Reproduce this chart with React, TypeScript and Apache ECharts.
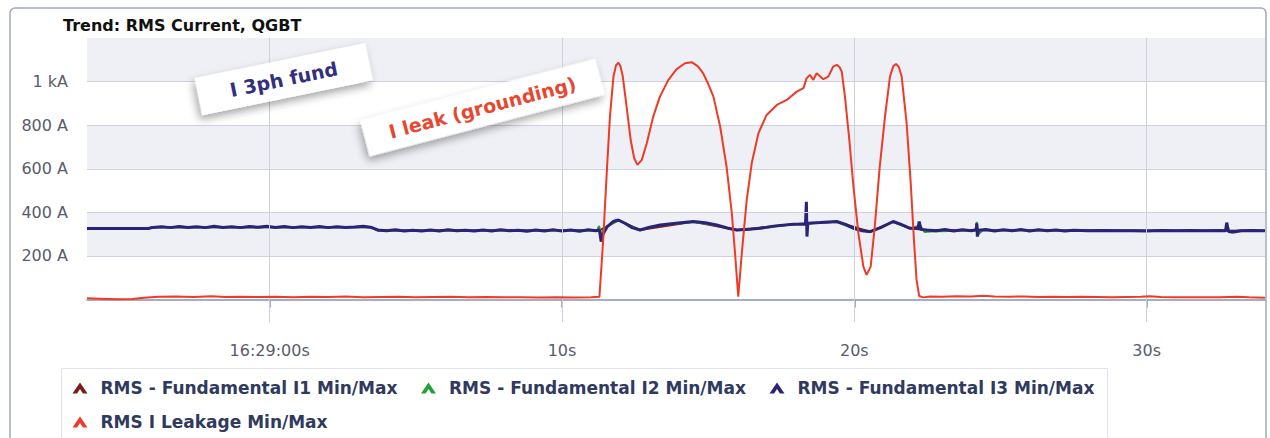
import React, { useEffect, useRef } from "react";
import * as echarts from "echarts";

// ---- axis ticks (seconds after 16:29:00, amperes) ----
const xTickValues = [0, 10, 20, 30];
const xTickLabels = ["16:29:00s", "10s", "20s", "30s"];
const yTickValues = [200, 400, 600, 800, 1000];
const yTickLabels = ["200 A", "400 A", "600 A", "800 A", "1 kA"];
const bandRanges = [
  [200, 400],
  [600, 800],
  [1000, 1200],
];

const seriesNames = [
  "RMS - Fundamental I1 Min/Max",
  "RMS - Fundamental I2 Min/Max",
  "RMS - Fundamental I3 Min/Max",
  "RMS I Leakage Min/Max",
];
const seriesColors = ["#7d1b16", "#23a03a", "#2a2378", "#ee3a26"];

// ---- data: [seconds after 16:29:00, A] ----
const i1Data = [
  [-6.25, 326], [-4.15, 326], [-4.0, 332], [3.45, 332], [3.7, 317], [11.3, 318],
  [11.93, 364], [12.67, 319], [14.49, 357], [15.98, 319], [17.91, 346], [19.4, 357],
  [20.54, 311], [21.33, 357], [21.91, 327], [22.48, 318], [34.05, 316],
];

const i2Data = [
  [-6.25, 326], [-4.15, 326], [-4.0, 332], [3.45, 332], [3.7, 317], [11.2, 317],
  [11.27, 338], [11.32, 300], [11.5, 332], [11.93, 363], [12.67, 318], [13.0, 331],
  [13.36, 341], [14.49, 356], [15.29, 341], [15.98, 318], [16.77, 326], [17.91, 345],
  [18.83, 352], [19.4, 356], [19.97, 326], [20.54, 309], [21.33, 356], [21.91, 326],
  [22.25, 340], [22.4, 310], [22.6, 312], [24.15, 318], [24.19, 356], [24.24, 300],
  [24.4, 318], [32.7, 316], [32.74, 345], [32.85, 309], [33.05, 309], [33.3, 316],
  [34.05, 316],
];

const i3Data = [
  [-6.25, 326], [-5.5, 326], [-4.8, 326], [-4.15, 326],
  [-4.0, 331], [-3.7, 334], [-3.4, 330], [-3.1, 335], [-2.8, 331], [-2.5, 334],
  [-2.2, 330], [-1.9, 336], [-1.6, 331], [-1.3, 334], [-1.0, 330], [-0.7, 335],
  [-0.4, 332], [-0.1, 336], [0.2, 331], [0.5, 335], [0.8, 330], [1.1, 334],
  [1.4, 331], [1.7, 335], [2.0, 330], [2.3, 334], [2.6, 331], [2.9, 333],
  [3.2, 336], [3.45, 332], [3.7, 319], [4.0, 316], [4.3, 320], [4.6, 315],
  [4.9, 318], [5.2, 314], [5.5, 319], [5.8, 315], [6.1, 320], [6.4, 316],
  [6.7, 318], [7.0, 314], [7.3, 319], [7.6, 315], [7.9, 320], [8.2, 316],
  [8.5, 318], [8.8, 313], [9.1, 319], [9.4, 315], [9.7, 320], [10.0, 314],
  [10.3, 319], [10.6, 313], [10.9, 320], [11.15, 316], [11.28, 319], [11.34, 266],
  [11.4, 300], [11.55, 335], [11.75, 358], [11.93, 365], [12.15, 350], [12.4, 330],
  [12.67, 319], [13.0, 332], [13.36, 342], [13.9, 350], [14.49, 358], [14.9, 352],
  [15.29, 342], [15.65, 328], [15.98, 319], [16.4, 322], [16.77, 327], [17.3, 338],
  [17.91, 346], [18.33, 347], [18.36, 449], [18.38, 289], [18.41, 350], [18.83, 353],
  [19.4, 358], [19.7, 345], [19.97, 327], [20.25, 316], [20.54, 312], [20.9, 330],
  [21.33, 358], [21.6, 345], [21.91, 327], [22.18, 326], [22.22, 358], [22.28, 322],
  [22.48, 319], [22.8, 316], [23.1, 321], [23.4, 315], [23.7, 320], [24.0, 316],
  [24.17, 320], [24.19, 350], [24.21, 289], [24.25, 318], [24.5, 321], [24.8, 315],
  [25.1, 320], [25.4, 316], [25.7, 321], [26.0, 315], [26.3, 320], [26.6, 316],
  [26.9, 319], [27.2, 315], [27.5, 318], [28.0, 316], [28.5, 317], [29.0, 316],
  [29.5, 316], [30.0, 315], [30.5, 317], [31.0, 316], [31.5, 317], [32.0, 316],
  [32.5, 317], [32.7, 316], [32.74, 353], [32.8, 312], [32.95, 310], [33.2, 316],
  [33.6, 317], [34.05, 316],
];

const leakData = [
  [-6.25, 6], [-5.8, 4], [-5.2, 1], [-4.7, 3], [-4.3, 8], [-3.8, 13], [-3.2, 14],
  [-2.6, 12], [-2.0, 15], [-1.5, 12], [-1.0, 13], [-0.4, 12], [0.2, 13], [0.8, 11],
  [1.4, 13], [2.0, 12], [2.6, 14], [3.2, 11], [3.8, 12], [4.4, 13], [5.0, 10],
  [5.6, 12], [6.2, 13], [6.8, 11], [7.4, 12], [8.0, 10], [8.6, 11], [9.2, 9],
  [9.8, 10], [10.4, 9], [11.0, 10], [11.28, 13],
  [11.41, 274], [11.53, 580], [11.64, 839], [11.76, 1023], [11.85, 1075], [11.93, 1087],
  [12.0, 1070], [12.08, 1023], [12.21, 885], [12.35, 732], [12.47, 648], [12.58, 618],
  [12.73, 641], [12.9, 717], [13.12, 839], [13.35, 931], [13.64, 1008], [13.92, 1057],
  [14.21, 1084], [14.44, 1089], [14.66, 1069], [14.83, 1038], [15.0, 990], [15.18, 931],
  [15.41, 794], [15.63, 610], [15.81, 396], [15.92, 212], [16.03, 13], [16.15, 212],
  [16.32, 457], [16.49, 625], [16.72, 763], [17.0, 847], [17.35, 893], [17.69, 916],
  [18.03, 954], [18.26, 970], [18.37, 1016], [18.48, 1031], [18.6, 1008], [18.71, 1038],
  [18.94, 1011], [19.11, 1023], [19.28, 1069], [19.4, 1077], [19.5, 1066], [19.57, 1046],
  [19.68, 931], [19.83, 732], [19.97, 518], [20.14, 304], [20.31, 151], [20.42, 113],
  [20.56, 151], [20.7, 335], [20.87, 610], [21.05, 839], [21.22, 1023], [21.33, 1070],
  [21.43, 1081], [21.53, 1065], [21.62, 1023], [21.79, 809], [21.93, 534], [22.04, 274],
  [22.13, 90], [22.22, 16], [22.36, 10],
  [22.6, 14], [23.0, 13], [23.5, 15], [24.0, 14], [24.4, 17], [24.8, 14], [25.3, 13],
  [25.8, 14], [26.3, 12], [26.8, 13], [27.3, 12], [27.8, 13], [28.3, 12], [28.8, 11],
  [29.3, 12], [29.8, 13], [30.1, 15], [30.5, 12], [31.0, 11], [31.5, 11], [32.0, 10],
  [32.5, 10], [33.1, 13], [33.5, 10], [34.05, 8],
];

const seriesData = [i1Data, i2Data, i3Data, leakData];
const seriesWidths = [2, 2, 3, 2];

function annotation(cx: number, cy: number, w: number, h: number, deg: number, text: string, color: string) {
  return {
    type: "group",
    x: cx,
    y: cy,
    rotation: (deg * Math.PI) / 180,
    z: 100,
    children: [
      {
        type: "rect",
        z: 100,
        shape: { x: -w / 2, y: -h / 2, width: w, height: h },
        style: {
          fill: "#ffffff",
          shadowBlur: 8,
          shadowOffsetX: -3,
          shadowOffsetY: 4,
          shadowColor: "rgba(0,0,0,0.35)",
        },
      },
      {
        type: "text",
        z: 101,
        x: 0,
        y: 0,
        style: {
          text,
          fill: color,
          font: 'bold 19px "DejaVu Sans"',
          textAlign: "center",
          textVerticalAlign: "middle",
        },
      },
    ],
  };
}

// legend item layout (icon left x, row centre y)
const legendSlots = [
  [72.5, 388],
  [421, 388],
  [769.5, 388],
  [72.5, 422],
];

function legendGraphics() {
  const els: any[] = [
    {
      type: "rect",
      z: 90,
      shape: { x: 61.5, y: 368.5, width: 1046, height: 80 },
      style: { fill: "#ffffff", stroke: "#dfe2ea", lineWidth: 1 },
      silent: true,
    },
  ];
  seriesNames.forEach((name, i) => {
    const [x, y] = legendSlots[i];
    els.push({
      type: "polygon",
      z: 91,
      x,
      y: y - 5.5,
      shape: {
        points: [
          [0, 11],
          [7.5, 0],
          [15, 11],
          [10.4, 11],
          [7.5, 6.6],
          [4.6, 11],
        ],
      },
      style: { fill: seriesColors[i] },
      silent: true,
    });
    els.push({
      type: "text",
      z: 91,
      x: x + 28,
      y,
      style: {
        text: name,
        fill: "#2f3a5e",
        font: 'bold 17px "DejaVu Sans"',
        textAlign: "left",
        textVerticalAlign: "middle",
      },
      silent: true,
    });
  });
  return els;
}

export default function App() {
  const ref = useRef<HTMLDivElement>(null);
  useEffect(() => {
    const chart = echarts.init(ref.current!, null, { renderer: "svg" });
    const labelFont = { fontFamily: "DejaVu Sans", fontSize: 16, color: "#585c6c" };
    const option: any = {
      animation: false,
      backgroundColor: "#ffffff",
      title: {
        text: "Trend: RMS Current, QGBT",
        left: 63,
        top: 17,
        padding: 0,
        textStyle: { fontFamily: "DejaVu Sans", fontSize: 16, fontWeight: "bold", color: "#111111" },
      },
      grid: { left: 87, right: 5, top: 38, bottom: 116, containLabel: false, outerBoundsMode: "none" },
      xAxis: {
        type: "value",
        min: -6.25,
        max: 34.05,
        axisLine: { show: true, lineStyle: { color: "#8a92ab", width: 1.5 } },
        axisTick: { show: true, customValues: xTickValues, length: 8, lineStyle: { color: "#8a92ab", width: 1.5 } },
        axisLabel: {
          ...labelFont,
          customValues: xTickValues,
          margin: 20,
          formatter: (v: number) => xTickLabels[xTickValues.indexOf(v)] ?? "",
        },
        splitLine: { show: false },
      },
      yAxis: {
        type: "value",
        min: -103,
        max: 1200,
        axisLine: { show: true, lineStyle: { color: "#d0d4de", width: 1 } },
        axisTick: { show: true, customValues: yTickValues, length: 12, lineStyle: { color: "#8d93a5", width: 1 } },
        axisLabel: {
          ...labelFont,
          customValues: yTickValues,
          margin: 19,
          formatter: (v: number) => yTickLabels[yTickValues.indexOf(v)] ?? "",
        },
        splitLine: { show: false },
      },
      graphic: [
        {
          type: "rect",
          shape: { x: 10, y: 8, width: 1256, height: 445, r: 5 },
          style: { fill: "none", stroke: "#a3a9bb", lineWidth: 1.5 },
          silent: true,
        },
        annotation(283.75, 79.15, 174, 38, 11.6, "I 3ph fund", "#332f7e"),
        annotation(482.5, 107.5, 243, 37, 14.7, "I leak (grounding)", "#e8472f"),
        ...legendGraphics(),
      ],
      series: [
        {
          name: "grid",
          type: "line",
          data: [],
          silent: true,
          z: 1,
          markArea: {
            silent: true,
            itemStyle: { color: "#eef0f6" },
            label: { show: false },
            data: bandRanges.map(([a, b]) => [{ yAxis: a }, { yAxis: b }]),
          },
          markLine: {
            silent: true,
            symbol: "none",
            label: { show: false },
            lineStyle: { color: "#cdd1dc", type: "solid", width: 1 },
            data: [...yTickValues.map((v) => ({ yAxis: v })), ...xTickValues.map((v) => ({ xAxis: v }))],
          },
        },
        ...seriesNames.map((name, i) => ({
          name,
          type: "line",
          data: seriesData[i],
          color: seriesColors[i],
          showSymbol: false,
          symbol: "none",
          z: 2 + i,
          lineStyle: { color: seriesColors[i], width: seriesWidths[i] },
          itemStyle: { color: seriesColors[i] },
        })),
      ],
    };
    chart.setOption(option);
    return () => chart.dispose();
  }, []);
  return <div ref={ref} style={{ position: "fixed", left: 0, top: 0, width: 1270, height: 438 }} />;
}
